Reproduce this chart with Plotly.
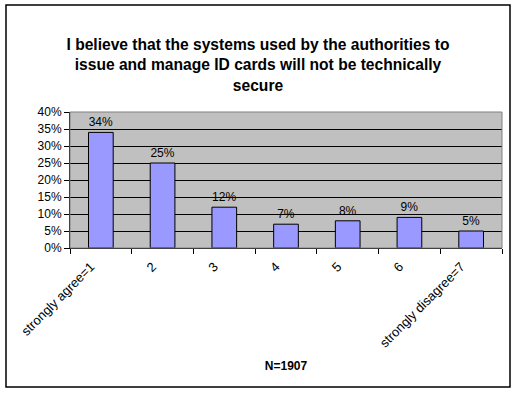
import plotly.graph_objects as go

categories = ["strongly agree=1", "2", "3", "4", "5", "6", "strongly disagree=7"]
values = [34, 25, 12, 7, 8, 9, 5]
labels = [f"{v}%" for v in values]
y_ticks = [0, 5, 10, 15, 20, 25, 30, 35, 40]
y_tick_text = [f"{v}%" for v in y_ticks]

title_text = ("I believe that the systems used by the authorities to<br>"
              "issue and manage ID cards will not be technically<br>secure")

FONT = "Liberation Sans, Arial"

fig = go.Figure(go.Bar(
    x=categories, y=values, text=labels, textposition="outside",
    textfont=dict(family=FONT, size=12, color="black"),
    marker=dict(color="#9999FF", line=dict(color="black", width=1)),
    cliponaxis=False,
))

W, H = 516, 394
L, R, T, B = 70, 14, 112, 146
pw, ph = W - L - R, H - T - B

def px(x):
    return (x - L) / pw

def py(y):
    return (H - B - y) / ph

fig.update_layout(
    width=W, height=H,
    margin=dict(l=L, r=R, t=T, b=B, autoexpand=False),
    paper_bgcolor="white", plot_bgcolor="#C0C0C0",
    showlegend=False, bargap=0.6,
    font=dict(family=FONT, size=12, color="black"),
    title=dict(text=title_text, x=0.5, xanchor="center", y=1 - 50 / H, yanchor="top",
               font=dict(family=FONT, size=15.6, color="black", weight="bold")),
    xaxis=dict(
        type="category", tickson="boundaries", ticks="outside", ticklen=5,
        tickcolor="black", showline=True, linecolor="black", linewidth=1,
        tickangle=-45, showgrid=False, automargin=False,
        ticklabelshift=-10, ticklabelstandoff=5,
        tickfont=dict(family=FONT, size=13, color="black"),
        title=dict(text="<b>N=1907</b>", standoff=12,
                   font=dict(family=FONT, size=12, color="black")),
    ),
    yaxis=dict(
        range=[0, 40], tickmode="array", tickvals=y_ticks, ticktext=y_tick_text,
        ticks="outside", ticklen=5, automargin=False,
        tickcolor="black", showline=True, linecolor="black", linewidth=1,
        showgrid=True, gridcolor="black", gridwidth=1, zeroline=False,
        tickfont=dict(family=FONT, size=12, color="black"),
    ),
    shapes=[
        dict(type="rect", xref="paper", yref="paper", x0=0, x1=1, y0=0, y1=1,
             line=dict(color="#808080", width=1), layer="above"),
        dict(type="rect", xref="paper", yref="paper",
             x0=px(6), x1=px(510), y0=py(387), y1=py(5),
             line=dict(color="black", width=1.5), layer="above"),
    ],
)

fig.write_html("out.html", config={"displayModeBar": False},
               post_script="document.body.style.margin='0';")
